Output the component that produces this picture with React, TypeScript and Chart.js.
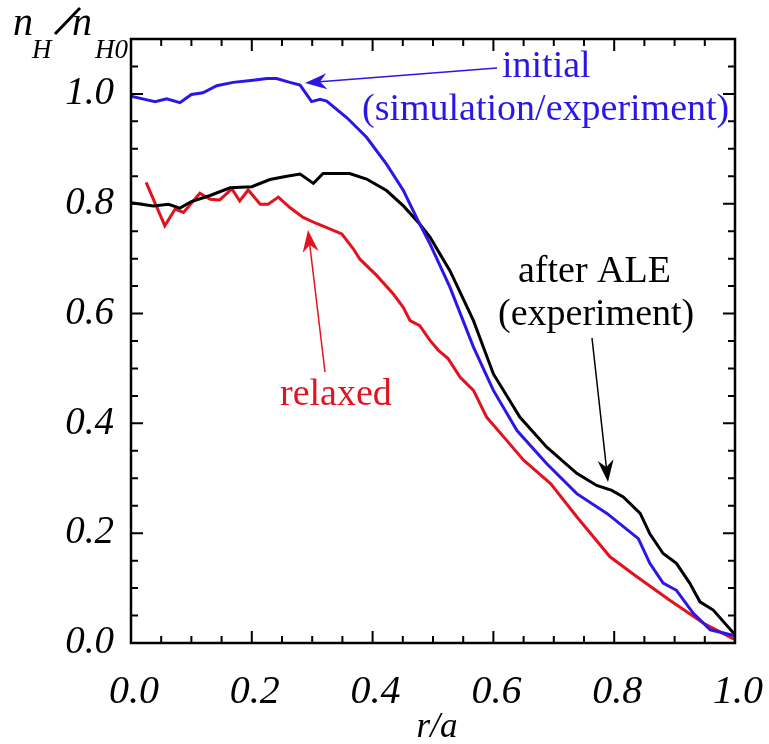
import React, { useEffect, useRef } from "react";
import { Chart, registerables } from "chart.js";

Chart.register(...registerables);

const FONT = '"Liberation Serif", "Times New Roman", serif';

// r/a positions and n_H/n_H0 values
const initialR = [0, 0.023, 0.04, 0.059, 0.081, 0.1, 0.119, 0.142, 0.169, 0.202, 0.225, 0.241, 0.263, 0.28, 0.299, 0.313, 0.324, 0.357, 0.39, 0.423, 0.451, 0.478, 0.495, 0.528, 0.567, 0.6, 0.639, 0.688, 0.738, 0.788, 0.84, 0.859, 0.881, 0.903, 0.931, 0.959, 1.0];
const initialV = [0.996, 0.99, 0.986, 0.991, 0.984, 0.999, 1.002, 1.015, 1.021, 1.025, 1.028, 1.028, 1.021, 1.016, 0.986, 0.99, 0.987, 0.957, 0.921, 0.872, 0.824, 0.763, 0.727, 0.648, 0.539, 0.46, 0.387, 0.327, 0.272, 0.236, 0.19, 0.145, 0.109, 0.096, 0.054, 0.024, 0.013];

const aleR = [0, 0.037, 0.062, 0.081, 0.1, 0.131, 0.164, 0.2, 0.23, 0.258, 0.28, 0.302, 0.318, 0.362, 0.39, 0.423, 0.451, 0.478, 0.495, 0.528, 0.567, 0.6, 0.644, 0.688, 0.738, 0.771, 0.796, 0.815, 0.843, 0.859, 0.881, 0.903, 0.925, 0.942, 0.964, 1.0];
const aleV = [0.802, 0.796, 0.799, 0.792, 0.804, 0.815, 0.829, 0.831, 0.844, 0.85, 0.854, 0.837, 0.855, 0.855, 0.845, 0.824, 0.796, 0.763, 0.739, 0.678, 0.587, 0.49, 0.411, 0.357, 0.309, 0.287, 0.278, 0.266, 0.236, 0.199, 0.163, 0.145, 0.109, 0.075, 0.06, 0.015];

const relaxedR = [0.025, 0.056, 0.073, 0.087, 0.114, 0.131, 0.147, 0.167, 0.18, 0.194, 0.214, 0.227, 0.244, 0.263, 0.285, 0.307, 0.329, 0.349, 0.368, 0.379, 0.407, 0.434, 0.451, 0.462, 0.478, 0.495, 0.509, 0.525, 0.545, 0.567, 0.589, 0.622, 0.65, 0.695, 0.738, 0.793, 0.837, 0.892, 0.948, 1.0];
const relaxedV = [0.839, 0.76, 0.79, 0.784, 0.819, 0.808, 0.807, 0.827, 0.805, 0.825, 0.799, 0.799, 0.812, 0.793, 0.775, 0.764, 0.754, 0.745, 0.718, 0.699, 0.669, 0.636, 0.611, 0.587, 0.578, 0.551, 0.533, 0.518, 0.484, 0.46, 0.411, 0.369, 0.333, 0.29, 0.23, 0.157, 0.121, 0.078, 0.036, 0.006];

const xTickValues = [0, 0.2, 0.4, 0.6, 0.8, 1.0];
const yTickValues = [0, 0.2, 0.4, 0.6, 0.8, 1.0];

const BLUE = "#2b16e8";
const RED = "#e3121f";
const BLACK = "#000000";

function arrow(ctx: CanvasRenderingContext2D, x1: number, y1: number, x2: number, y2: number, color: string) {
  const a = Math.atan2(y2 - y1, x2 - x1);
  const dx = Math.cos(a), dy = Math.sin(a);
  const px = -dy, py = dx;
  const L = 22, W = 8, N = 15;
  ctx.strokeStyle = color;
  ctx.fillStyle = color;
  ctx.lineWidth = 1.5;
  ctx.beginPath();
  ctx.moveTo(x1, y1);
  ctx.lineTo(x2 - N * dx, y2 - N * dy);
  ctx.stroke();
  ctx.beginPath();
  ctx.moveTo(x2, y2);
  ctx.lineTo(x2 - L * dx + W * px, y2 - L * dy + W * py);
  ctx.lineTo(x2 - N * dx, y2 - N * dy);
  ctx.lineTo(x2 - L * dx - W * px, y2 - L * dy - W * py);
  ctx.closePath();
  ctx.fill();
}

const overlay = {
  id: "overlay",
  afterDraw(chart: any) {
    const { ctx, chartArea } = chart;
    const { left, right, top, bottom } = chartArea;
    const xs = chart.scales.x;
    const ys = chart.scales.y;
    ctx.save();
    ctx.strokeStyle = "#000";
    ctx.lineWidth = 2.5;
    ctx.strokeRect(left, top, right - left, bottom - top);
    ctx.lineWidth = 2;
    for (let i = 0; i <= 20; i++) {
      const px = xs.getPixelForValue(i / 20);
      const len = i % 4 === 0 ? 12 : 7;
      ctx.beginPath();
      ctx.moveTo(px, bottom);
      ctx.lineTo(px, bottom - len);
      ctx.moveTo(px, top);
      ctx.lineTo(px, top + len);
      ctx.stroke();
    }
    for (let i = 0; i <= 22; i++) {
      const py = ys.getPixelForValue(i / 20);
      const len = i % 4 === 0 ? 12 : 7;
      ctx.beginPath();
      ctx.moveTo(left, py);
      ctx.lineTo(left + len, py);
      ctx.moveTo(right, py);
      ctx.lineTo(right - len, py);
      ctx.stroke();
    }

    // x tick labels
    ctx.fillStyle = "#000";
    ctx.textAlign = "center";
    ctx.textBaseline = "alphabetic";
    ctx.font = `italic 40px ${FONT}`;
    xTickValues.forEach((v) => {
      ctx.fillText(v.toFixed(1), xs.getPixelForValue(v) + 3, bottom + 60);
    });

    // x-axis title
    ctx.font = `italic 35px ${FONT}`;
    ctx.fillText("r/a", 437, 737);

    // y-axis title n_H / n_H0
    ctx.textAlign = "left";
    ctx.font = `italic 40px ${FONT}`;
    ctx.fillText("n", 13, 35);
    ctx.fillText("n", 72, 35);
    ctx.font = `italic 27px ${FONT}`;
    ctx.fillText("H", 32, 58);
    ctx.fillText("H0", 95, 58);
    ctx.lineWidth = 3;
    ctx.beginPath();
    ctx.moveTo(55, 34);
    ctx.lineTo(80, 8);
    ctx.stroke();

    // annotations
    ctx.font = `38px ${FONT}`;
    ctx.fillStyle = BLUE;
    ctx.fillText("initial", 502, 77);
    ctx.fillText("(simulation/experiment)", 362, 120);
    ctx.fillStyle = BLACK;
    ctx.fillText("after ALE", 518, 282);
    ctx.fillText("(experiment)", 498, 325);
    ctx.fillStyle = RED;
    ctx.fillText("relaxed", 280, 405);

    arrow(ctx, 497, 68, 305, 83, BLUE);
    arrow(ctx, 325, 372, 308, 230, RED);
    arrow(ctx, 592, 338, 608, 482, BLACK);
    ctx.restore();
  },
};

function toPoints(r: number[], v: number[]) {
  return r.map((x, i) => ({ x, y: v[i] }));
}

export default function App() {
  const ref = useRef<HTMLCanvasElement | null>(null);
  useEffect(() => {
    document.body.style.margin = "0";
    const canvas = ref.current;
    if (!canvas) return;
    const chart = new Chart(canvas, {
      type: "line",
      data: {
        datasets: [
          { label: "initial", data: toPoints(initialR, initialV), borderColor: BLUE, borderWidth: 3, pointRadius: 0, tension: 0, fill: false },
          { label: "after ALE", data: toPoints(aleR, aleV), borderColor: BLACK, borderWidth: 3, pointRadius: 0, tension: 0, fill: false },
          { label: "relaxed", data: toPoints(relaxedR, relaxedV), borderColor: RED, borderWidth: 3, pointRadius: 0, tension: 0, fill: false },
        ],
      },
      options: {
        animation: false,
        responsive: false,
        maintainAspectRatio: false,
        layout: { padding: { top: 39, right: 34, left: 0, bottom: 0 } },
        plugins: { legend: { display: false }, tooltip: { enabled: false } },
        scales: {
          x: {
            type: "linear",
            min: 0,
            max: 1,
            grid: { display: false },
            border: { display: false },
            afterBuildTicks: (s: any) => { s.ticks = xTickValues.map((value) => ({ value })); },
            afterFit: (s: any) => { s.height = 101; s.paddingLeft = 0; s.paddingRight = 0; },
            ticks: { display: false },
            title: { display: false },
          },
          y: {
            type: "linear",
            min: 0,
            max: 1.1,
            grid: { display: false },
            border: { display: false },
            afterBuildTicks: (s: any) => { s.ticks = yTickValues.map((value) => ({ value })); },
            afterFit: (s: any) => { s.width = 131; },
            ticks: {
              autoSkip: false,
              padding: 9,
              color: "#000",
              font: { family: FONT, style: "italic", size: 39 },
              callback: (v: any) => Number(v).toFixed(1),
            },
          },
        },
      },
      plugins: [overlay],
    });
    return () => chart.destroy();
  }, []);
  return (
    <div style={{ position: "absolute", left: 0, top: 0, width: 769, height: 744, background: "#fff" }}>
      <canvas ref={ref} width={769} height={744} style={{ display: "block" }} />
    </div>
  );
}
